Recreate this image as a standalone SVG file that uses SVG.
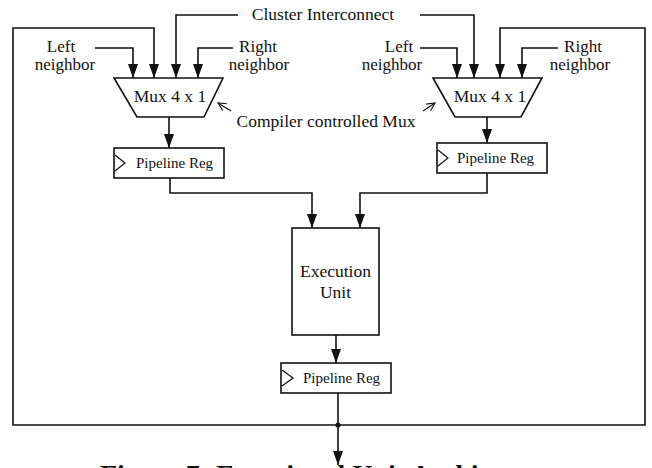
<svg xmlns="http://www.w3.org/2000/svg" width="652" height="468" viewBox="0 0 652 468">
<style>
.t{font-family:"Liberation Serif","Times New Roman",serif;font-size:17.5px;fill:#111}
.n{font-family:"Liberation Serif","Times New Roman",serif;font-size:17px;fill:#111}
.m{text-anchor:middle}
.r{font-family:"Liberation Serif","Times New Roman",serif;font-size:15px;fill:#111}
.box{fill:#fff;stroke:#111;stroke-width:1.6}
.clk{fill:none;stroke:#111;stroke-width:1.2}
.wa{fill:none;stroke:#111;stroke-width:1.6;marker-end:url(#ah)}
.thin{fill:none;stroke:#111;stroke-width:1.1;marker-end:url(#oh)}
.cap{font-family:"Liberation Serif","Times New Roman",serif;font-size:28px;font-weight:bold;fill:#111}
</style>
<defs>
<marker id="ah" viewBox="0 0 14 10" refX="14" refY="5" markerWidth="14" markerHeight="10" orient="auto" markerUnits="userSpaceOnUse">
<path d="M0,0 L14,5 L0,10 Z" fill="#111"/>
</marker>
<marker id="oh" viewBox="0 0 10 10" refX="9" refY="5" markerWidth="10" markerHeight="10" orient="auto" markerUnits="userSpaceOnUse">
<path d="M1,1 L9,5 L1,9" fill="none" stroke="#111" stroke-width="1.1"/>
</marker>
</defs>
<rect width="652" height="468" fill="#fff"/>
<g id="connectors">
<path class="wa" d="M238,15 H176 V78"/>
<path class="wa" d="M420,15 H474 V78"/>
<path class="wa" d="M338,425 H13 V28 H154 V78"/>
<path class="wa" d="M338,425 H645 V28 H500 V78"/>
<path class="wa" d="M95,48 H133 V78"/>
<path class="wa" d="M233,48 H198 V78"/>
<path class="wa" d="M420,48 H457 V78"/>
<path class="wa" d="M558,48 H522 V78"/>
<path class="wa" d="M169,117 V148"/>
<path class="wa" d="M487,117 V143"/>
<path class="wa" d="M170,178 V193 H312 V228"/>
<path class="wa" d="M487,173 V193 H360 V228"/>
<path class="wa" d="M336,335 V363"/>
<path class="wa" d="M338,393 V465"/>
<circle cx="338" cy="425" r="2.6" fill="#111"/>
<path class="thin" d="M231,111 L218,103"/>
<path class="thin" d="M423,111 L435,103"/>
</g>
<g id="cluster-label"><text class="t m" x="323" y="20">Cluster Interconnect</text></g>
<g id="left-inputs">
<text class="n m" x="61" y="52">Left</text>
<text class="n m" x="65" y="70">neighbor</text>
<text class="n m" x="258" y="52">Right</text>
<text class="n m" x="259" y="70">neighbor</text>
</g>
<g id="right-inputs">
<text class="n m" x="399" y="52">Left</text>
<text class="n m" x="392" y="70">neighbor</text>
<text class="n m" x="583" y="52">Right</text>
<text class="n m" x="580" y="70">neighbor</text>
</g>
<g id="mux-left">
<path class="box" d="M114,78 H223 L204,117 H137 Z"/>
<text class="t m" x="170" y="102">Mux 4 x 1</text>
</g>
<g id="mux-right">
<path class="box" d="M433,78 H542 L521,117 H455 Z"/>
<text class="t m" x="490" y="102">Mux 4 x 1</text>
</g>
<g id="mux-label"><text class="t m" x="326" y="127">Compiler controlled Mux</text></g>
<g id="reg-left">
<rect class="box" x="114" y="148" width="110" height="30"/>
<path class="clk" d="M115,155 L125,163 L115,171"/>
<text class="r" x="136" y="168">Pipeline Reg</text>
</g>
<g id="reg-right">
<rect class="box" x="437" y="143" width="110" height="30"/>
<path class="clk" d="M438,150 L448,158 L438,166"/>
<text class="r" x="457" y="163">Pipeline Reg</text>
</g>
<g id="exec-unit">
<rect class="box" x="292" y="228" width="87" height="107"/>
<text class="t m" x="335.5" y="277">Execution</text>
<text class="t m" x="335.5" y="298">Unit</text>
</g>
<g id="reg-bottom">
<rect class="box" x="281" y="363" width="110" height="30"/>
<path class="clk" d="M282,370 L293,378 L282,386"/>
<text class="r" x="303" y="383">Pipeline Reg</text>
</g>
<g id="caption"><text class="cap" x="100" y="484">Figure 7: Functional Unit Architecture</text></g>
</svg>
